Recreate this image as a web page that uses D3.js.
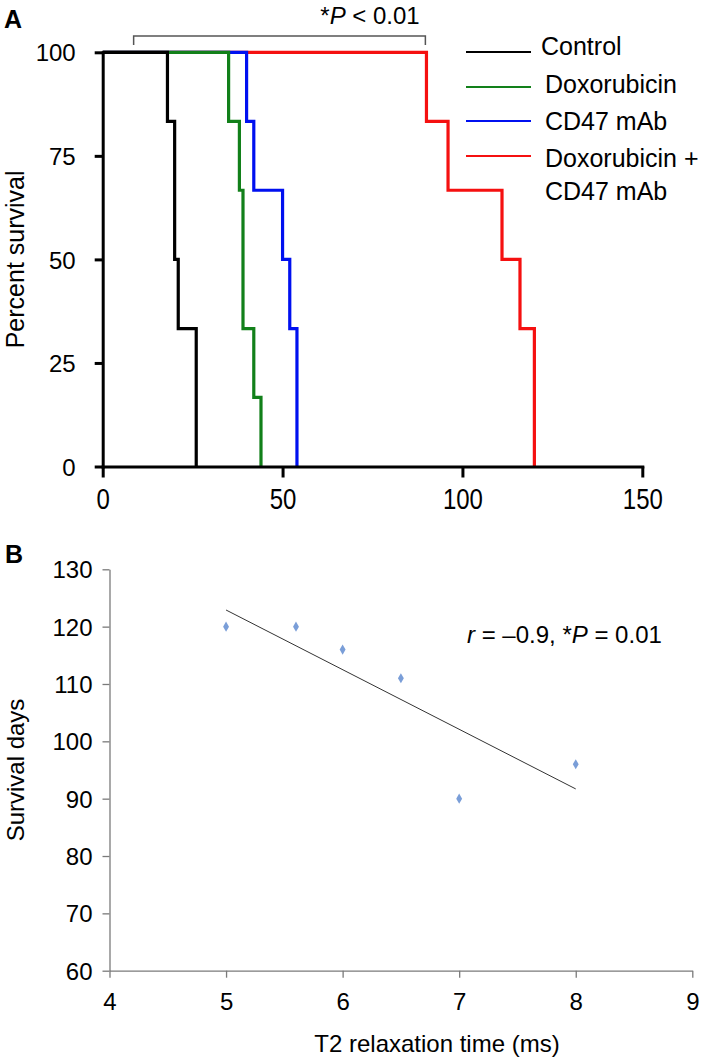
<!DOCTYPE html>
<html lang="en">
<head>
  <meta charset="UTF-8">
  <title>Survival and T2 relaxation</title>
  <script src="https://d3js.org/d3.v7.min.js"></script>
  <style>
    body {
      margin: 0;
      padding: 0;
      background: white;
    }
    svg {
      display: block;
      font-family: 'Liberation Sans', Arial, sans-serif;
    }
  </style>
</head>
<body>
  <div id="chart"></div>

  <script>
    // Panel A: Kaplan-Meier steps, [day, percent survival]
    const controlSteps = [[0, 100], [18, 83.3], [20, 50], [21, 33.3], [26, 0]];
    const doxoSteps = [[0, 100], [35, 83.3], [38, 66.7], [39, 33.3], [42, 16.7], [44, 0]];
    const cd47Steps = [[0, 100], [40, 83.3], [42, 66.7], [50, 50], [52, 33.3], [54, 0]];
    const comboSteps = [[0, 100], [90, 83.3], [96, 66.7], [111, 50], [116, 33.3], [120, 0]];

    const seriesNames = ["Control", "Doxorubicin", "CD47 mAb", "Doxorubicin +|CD47 mAb"];
    const seriesColors = ["#000000", "#12801a", "#0010f0", "#f51010"];

    const daysTicks = [0, 50, 100, 150];
    const survivalTicks = [0, 25, 50, 75, 100];
    const bracketDays = [8.6, 89.7];

    // Panel B: T2 relaxation time (ms) vs survival days
    const t2Times = [5, 5.6, 6, 6.5, 7, 8];
    const survivalDays = [120, 120, 116, 111, 90, 96];
    const trendX = [5, 8];
    const trendY = [122.9, 91.7];
    const t2Ticks = [4, 5, 6, 7, 8, 9];
    const daysAxisTicks = [60, 70, 80, 90, 100, 110, 120, 130];

    const W = 709, H = 1060;
    const svg = d3.select("#chart").append("svg").attr("width", W).attr("height", H);

    // ---------- panel A ----------
    const xA = d3.scaleLinear().domain([0, 150]).range([102.7, 642.3]);
    const yA = d3.scaleLinear().domain([0, 100]).range([466.5, 52.3]);

    svg.append("text").attr("x", 4).attr("y", 28)
      .attr("font-size", 25).attr("font-weight", "bold").text("A");

    // bracket + p value
    const bTop = 36, bDrop = 45;
    svg.append("path")
      .attr("d", `M${xA(bracketDays[0])},${bDrop}V${bTop}H${xA(bracketDays[1])}V${bDrop}`)
      .attr("fill", "none").attr("stroke", "#555").attr("stroke-width", 1.5);
    const pText = svg.append("text").attr("x", 370).attr("y", 24)
      .attr("text-anchor", "middle").attr("font-size", 24);
    pText.append("tspan").text("*");
    pText.append("tspan").attr("font-style", "italic").text("P");
    pText.append("tspan").text(" < 0.01");

    // curves, combo drawn first so control ends on top
    const line = d3.line().x(d => xA(d[0])).y(d => yA(d[1])).curve(d3.curveStepAfter);
    const allSteps = [controlSteps, doxoSteps, cd47Steps, comboSteps];
    [3, 2, 1, 0].forEach(i => {
      svg.append("path")
        .datum(allSteps[i])
        .attr("d", line)
        .attr("fill", "none")
        .attr("stroke", seriesColors[i])
        .attr("stroke-width", 3.2)
        .attr("stroke-linejoin", "miter");
    });

    // axes
    const axA = svg.append("g").attr("transform", `translate(0,${yA(0)})`)
      .call(d3.axisBottom(xA).tickValues(daysTicks).tickSize(11).tickSizeOuter(0));
    const ayA = svg.append("g").attr("transform", `translate(${xA(0)},0)`)
      .call(d3.axisLeft(yA).tickValues(survivalTicks).tickSize(8).tickSizeOuter(0).tickPadding(19));
    [axA, ayA].forEach(g => {
      g.selectAll("path.domain").attr("stroke", "#000").attr("stroke-width", 3).attr("stroke-linecap", "square");
      g.selectAll(".tick line").attr("stroke", "#000").attr("stroke-width", 3);
      g.selectAll(".tick text").attr("font-size", 24).attr("fill", "#000")
        .attr("font-family", "'Liberation Sans', Arial, sans-serif");
    });
    ayA.selectAll(".tick text").attr("dy", "0.36em");
    // x labels in the original are drawn a little taller than wide
    axA.selectAll(".tick text").attr("y", 0).attr("dy", 0)
      .attr("transform", "translate(0,42) scale(1,1.2)");

    svg.append("text")
      .attr("transform", `translate(24,${(yA(0) + yA(100)) / 2}) rotate(-90)`)
      .attr("text-anchor", "middle").attr("font-size", 25).text("Percent survival");

    // legend
    const legLineY = [52, 87, 121, 156];
    const legTextY = [55, 93, 130, 167];
    seriesNames.forEach((name, i) => {
      svg.append("line")
        .attr("x1", 466).attr("x2", 531)
        .attr("y1", legLineY[i]).attr("y2", legLineY[i])
        .attr("stroke", seriesColors[i]).attr("stroke-width", 2);
      const t = svg.append("text").attr("x", i === 0 ? 541 : 545).attr("y", legTextY[i]).attr("font-size", 25);
      name.split("|").forEach((part, j) => {
        t.append("tspan").attr("x", i === 0 ? 541 : 545).attr("dy", j === 0 ? 0 : 33).text(part);
      });
    });

    // ---------- panel B ----------
    const xB = d3.scaleLinear().domain([4, 9]).range([109.5, 692.3]);
    const yB = d3.scaleLinear().domain([60, 130]).range([970.7, 569.3]);

    svg.append("text").attr("x", 5).attr("y", 563)
      .attr("font-size", 25).attr("font-weight", "bold").text("B");

    const axB = svg.append("g").attr("transform", `translate(0,${yB(60)})`)
      .call(d3.axisBottom(xB).tickValues(t2Ticks).tickSize(7).tickSizeOuter(0).tickPadding(15).tickFormat(d3.format("d")));
    const ayB = svg.append("g").attr("transform", `translate(${xB(4)},0)`)
      .call(d3.axisLeft(yB).tickValues(daysAxisTicks).tickSize(7).tickSizeOuter(0).tickPadding(10));
    [axB, ayB].forEach(g => {
      g.selectAll("path.domain").attr("stroke", "#7a7a7a").attr("stroke-width", 1.3);
      g.selectAll(".tick line").attr("stroke", "#7a7a7a").attr("stroke-width", 1.3);
      g.selectAll(".tick text").attr("font-size", 24).attr("fill", "#000")
        .attr("font-family", "'Liberation Sans', Arial, sans-serif");
    });
    ayB.selectAll(".tick text").attr("dy", "0.36em");

    // trend line
    svg.append("line")
      .attr("x1", xB(trendX[0])).attr("y1", yB(trendY[0]))
      .attr("x2", xB(trendX[1])).attr("y2", yB(trendY[1]))
      .attr("stroke", "#333").attr("stroke-width", 1);

    // points
    svg.selectAll("path.pt")
      .data(t2Times.map((t, i) => [t, survivalDays[i]]))
      .enter().append("path")
      .attr("class", "pt")
      .attr("d", d3.symbol().type(d3.symbolDiamond).size(30))
      .attr("transform", d => `translate(${xB(d[0])},${yB(d[1])})`)
      .attr("fill", "#7a9ed8");

    const rText = svg.append("text").attr("x", 467).attr("y", 643).attr("font-size", 24);
    rText.append("tspan").attr("font-style", "italic").text("r");
    rText.append("tspan").text(" = \u20130.9, *");
    rText.append("tspan").attr("font-style", "italic").text("P");
    rText.append("tspan").text(" = 0.01");

    svg.append("text").attr("x", 437).attr("y", 1052)
      .attr("text-anchor", "middle").attr("font-size", 24).text("T2 relaxation time (ms)");
    svg.append("text")
      .attr("transform", `translate(24,${(yB(60) + yB(130)) / 2}) rotate(-90)`)
      .attr("text-anchor", "middle").attr("font-size", 24).text("Survival days");
  </script>
</body>
</html>
